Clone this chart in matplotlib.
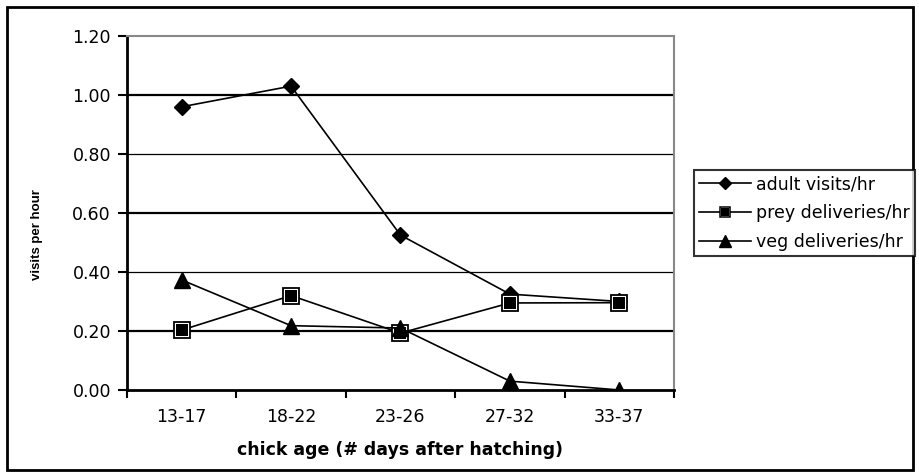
import numpy as np
import matplotlib.pyplot as plt
from matplotlib.lines import Line2D
from matplotlib.patches import Rectangle
from matplotlib.legend_handler import HandlerTuple

plt.rcParams['font.family'] = ['DejaVu Sans']

age_groups = ['13-17', '18-22', '23-26', '27-32', '33-37']
adult_visits = [0.96, 1.03, 0.525, 0.325, 0.30]
prey_deliveries = [0.203, 0.32, 0.193, 0.295, 0.296]
veg_deliveries = [0.373, 0.218, 0.21, 0.03, 0.0]
y_ticks = [0.0, 0.2, 0.4, 0.6, 0.8, 1.0, 1.2]

fig = plt.figure(figsize=(9.2, 4.76), dpi=100)
ax = fig.add_axes([0.138, 0.1807, 0.5946, 0.7437])

x = np.arange(len(age_groups))

# horizontal grid, alternating weight like the spreadsheet render
for i, v in enumerate(y_ticks[1:-1]):
    ax.axhline(v, color='black', lw=1.6 if i % 2 == 0 else 0.9, zorder=1)

ax.plot(x, adult_visits, color='black', lw=1.2, marker='D', ms=8.5,
        mfc='black', mec='black', zorder=3)
ax.plot(x, prey_deliveries, color='black', lw=1.2, marker='s', ms=11,
        mfc='white', mec='black', mew=1.3, zorder=3)
ax.plot(x, prey_deliveries, ls='none', marker='s', ms=8,
        mfc='black', mec='black', mew=0, zorder=4)
ax.plot(x, veg_deliveries, color='black', lw=1.2, marker='^', ms=12,
        mfc='black', mec='black', zorder=3)

ax.set_xlim(-0.5, len(age_groups) - 0.5)
ax.set_ylim(0, 1.2)
ax.set_yticks(y_ticks)
ax.set_yticklabels(['%.2f' % v for v in y_ticks], fontsize=12.5)
ax.set_xticks(x)
ax.set_xticklabels(age_groups, fontsize=12.5)
ax.set_xticks(np.arange(-0.5, len(age_groups)), minor=True)
ax.tick_params(axis='x', which='major', length=0, pad=13)
ax.tick_params(axis='x', which='minor', length=6, width=1.5, direction='out')
ax.tick_params(axis='y', length=6.5, width=1.5, direction='out', pad=5)

for side in ['top', 'right']:
    ax.spines[side].set_color('#888888')
    ax.spines[side].set_linewidth(1.5)
for side in ['left', 'bottom']:
    ax.spines[side].set_linewidth(2)

ax.set_xlabel('chick age (# days after hatching)', fontsize=12.5,
              fontweight='bold', labelpad=11)
ax.set_ylabel('visits per hour', fontsize=9.5, fontweight='bold',
              family='Liberation Sans')
ax.yaxis.set_label_coords(-0.154, 0.44)

h_adult = Line2D([], [], color='black', lw=1.2, marker='D', ms=6)
h_prey_bg = Line2D([], [], color='black', lw=1.2, marker='s', ms=7.5,
                   mfc='white', mec='black', mew=1.1)
h_prey_fg = Line2D([], [], ls='none', marker='s', ms=5.5, mfc='black', mew=0)
h_veg = Line2D([], [], color='black', lw=1.2, marker='^', ms=8)
leg = fig.legend([h_adult, (h_prey_bg, h_prey_fg), h_veg],
                 ['adult visits/hr', 'prey deliveries/hr', 'veg deliveries/hr'],
                 handler_map={tuple: HandlerTuple(ndivide=1, pad=0)},
                 loc='upper left', bbox_to_anchor=(694 / 920, 1 - 170 / 476),
                 fontsize=12.5, frameon=True, fancybox=False, handlelength=3.0,
                 handletextpad=0.3, borderpad=0.3, labelspacing=0.62,
                 borderaxespad=0)
leg.get_frame().set_edgecolor('black')
leg.get_frame().set_linewidth(1.5)

fig.patches.append(Rectangle((7 / 920, 6 / 476), 906 / 920, 463 / 476,
                             transform=fig.transFigure, fill=False,
                             edgecolor='black', lw=2))

fig.savefig('out.png', dpi=100)
